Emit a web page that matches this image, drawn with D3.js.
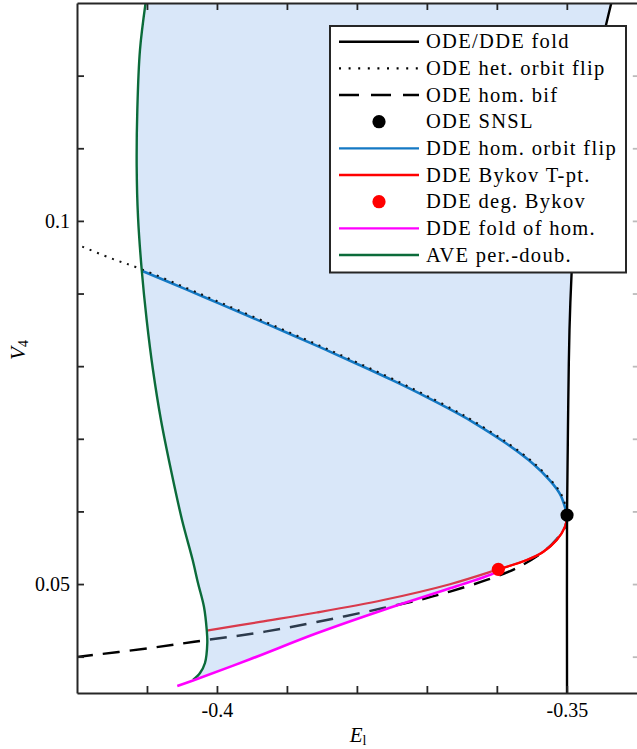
<!DOCTYPE html>
<html>
<head>
<meta charset="utf-8">
<style>
body { margin: 0; background: #fff; }
svg { display: block; }
text { font-family: "Liberation Serif", "Times New Roman", serif; fill: #000; }
</style>
</head>
<body>
<svg id="chart" width="637" height="749"></svg>
<script src="https://d3js.org/d3.v7.min.js"></script>
<script>

// ODE/DDE fold (bottom to top)
var foldE = [-0.34997, -0.34997, -0.34987, -0.34979, -0.34962, -0.34933, -0.34912, -0.34855, -0.34769, -0.34654, -0.34554, -0.34440, -0.34354];
var foldV = [0.0345, 0.0595, 0.06846, 0.07534, 0.08498, 0.09255, 0.09599, 0.10288, 0.10976, 0.11664, 0.12215, 0.12697, 0.13041];

// ODE het. orbit flip (dotted)
var hetE = [-0.4203, -0.41543, -0.41075, -0.40432, -0.39956, -0.39432, -0.38909, -0.38432, -0.37956, -0.37480, -0.37003, -0.36527, -0.36337, -0.35859, -0.35479, -0.35235, -0.35088, -0.35014, -0.34995];
var hetV = [0.09689, 0.09496, 0.09334, 0.09074, 0.08878, 0.08661, 0.08442, 0.08240, 0.08033, 0.07820, 0.07594, 0.07352, 0.07246, 0.06951, 0.06673, 0.06440, 0.06252, 0.06066, 0.05951];

// ODE hom. bif (dashed)
var hbE = [-0.42014, -0.40957, -0.40146, -0.39385, -0.38575, -0.37623, -0.37027, -0.36670, -0.36145, -0.35716, -0.35340, -0.35145, -0.35026, -0.34997];
var hbV = [0.03995, 0.04119, 0.04230, 0.04333, 0.04477, 0.04670, 0.04801, 0.04897, 0.05056, 0.05221, 0.05441, 0.05620, 0.05785, 0.0595];

// DDE hom. orbit flip
var homE = [-0.41075, -0.40432, -0.39956, -0.39432, -0.38909, -0.38432, -0.37956, -0.37480, -0.37003, -0.36527, -0.36337, -0.35859, -0.35479, -0.35240, -0.35097, -0.35026, -0.34997];
var homV = [0.09314, 0.09054, 0.08858, 0.08641, 0.08422, 0.08220, 0.08013, 0.07800, 0.07574, 0.07332, 0.07226, 0.06931, 0.06653, 0.06423, 0.06237, 0.06058, 0.0595];

// DDE Bykov T-pt.
var bykE = [-0.40146, -0.39385, -0.38575, -0.37623, -0.36670, -0.35979, -0.35573, -0.35336, -0.35145, -0.35026, -0.34997];
var bykV = [0.04358, 0.04479, 0.04608, 0.04780, 0.04998, 0.05203, 0.05331, 0.05445, 0.05606, 0.05790, 0.0595];

// DDE fold of hom.
var fhE = [-0.40567, -0.40342, -0.39528, -0.38575, -0.37623, -0.36670, -0.36002, -0.35979];
var fhV = [0.03596, 0.03672, 0.03964, 0.04322, 0.04643, 0.04941, 0.05170, 0.05203];

// AVE per.-doub. (top to bottom)
var pdE = [-0.41014, -0.41100, -0.41138, -0.41147, -0.41128, -0.41075, -0.41004, -0.40914, -0.40800, -0.40657, -0.40499, -0.40347, -0.40271, -0.40185, -0.40146, -0.40138, -0.40171, -0.40242, -0.40342];
var pdV = [0.13041, 0.12353, 0.11527, 0.10742, 0.10054, 0.09324, 0.08635, 0.07947, 0.07259, 0.06570, 0.05882, 0.05331, 0.05014, 0.04684, 0.04367, 0.04188, 0.03913, 0.03775, 0.03679];

// points
var snslE = [-0.34997], snslV = [0.0595];
var degE = [-0.35979], degV = [0.05203];

var xTicks = [-0.41, -0.40, -0.39, -0.38, -0.37, -0.36, -0.35];
var xLabels = {"-0.4": "-0.4", "-0.35": "-0.35"};
var yTicks = [0.04, 0.05, 0.06, 0.07, 0.08, 0.09, 0.10, 0.11, 0.12];
var yLabels = {"0.05": "0.05", "0.1": "0.1"};

var legendNames = ["ODE/DDE fold", "ODE het. orbit flip", "ODE hom. bif", "ODE SNSL",
  "DDE hom. orbit flip", "DDE Bykov T-pt.", "DDE deg. Bykov", "DDE fold of hom.", "AVE per.-doub."];

var cBlue = "#1479c4", cRed = "#ff0000", cMag = "#ff00ff", cGreen = "#0b6b3a", cAxis = "#262626";

var svg = d3.select("#chart");
var pLeft = 77, pRight = 636.8, pTop = 3, pBottom = 693;

var x = d3.scaleLinear().domain([-0.42, -0.34]).range([pLeft, pRight]);
var y = d3.scaleLinear().domain([0.035, 0.13]).range([pBottom, pTop]);

function pts(E, V) { return E.map(function(e, i) { return [e, V[i]]; }); }

var line = d3.line()
    .x(function(d) { return x(d[0]); })
    .y(function(d) { return y(d[1]); })
    .curve(d3.curveCatmullRom);

svg.append("defs").append("clipPath").attr("id", "plotclip")
  .append("rect").attr("x", pLeft).attr("y", pTop).attr("width", pRight - pLeft).attr("height", pBottom - pTop);

var plot = svg.append("g").attr("clip-path", "url(#plotclip)");

var fold = pts(foldE, foldV), het = pts(hetE, hetV), hb = pts(hbE, hbV), hom = pts(homE, homV),
    byk = pts(bykE, bykV), fh = pts(fhE, fhV), pd = pts(pdE, pdV);

// lines that sit under the shading
plot.append("path").attr("d", line(hb)).attr("fill", "none").attr("stroke", "#000")
    .attr("stroke-width", 2.4).attr("stroke-dasharray", "17,10");
plot.append("path").attr("d", line(byk)).attr("fill", "none").attr("stroke", cRed).attr("stroke-width", 2.2);

// shaded region: green down, magenta, red, fold up
var region = pd.concat(fh.slice(1), byk.slice(6), fold.slice(2));
plot.append("path").attr("d", line(region) + "Z")
    .attr("fill", "#8ab4ec").attr("fill-opacity", 0.32).attr("stroke", "none");

plot.append("path").attr("d", line(hom)).attr("fill", "none").attr("stroke", cBlue).attr("stroke-width", 2.6);
plot.append("path").attr("d", line(het)).attr("fill", "none").attr("stroke", "#111")
    .attr("stroke-width", 2).attr("stroke-dasharray", "2,6");
plot.append("path").attr("d", line(pd)).attr("fill", "none").attr("stroke", cGreen).attr("stroke-width", 2.4);
plot.append("path").attr("d", line(fh)).attr("fill", "none").attr("stroke", cMag).attr("stroke-width", 2.6);
plot.append("path").attr("d", line(byk.slice(5))).attr("fill", "none").attr("stroke", cRed).attr("stroke-width", 2.2);
plot.append("path").attr("d", line(fold)).attr("fill", "none").attr("stroke", "#000").attr("stroke-width", 2.4);

plot.selectAll("circle.snsl").data(pts(snslE, snslV)).enter().append("circle")
    .attr("cx", function(d) { return x(d[0]); }).attr("cy", function(d) { return y(d[1]); })
    .attr("r", 6.6).attr("fill", "#000");
plot.selectAll("circle.deg").data(pts(degE, degV)).enter().append("circle")
    .attr("cx", function(d) { return x(d[0]); }).attr("cy", function(d) { return y(d[1]); })
    .attr("r", 6.6).attr("fill", cRed);

// axes (ticks inside, box on all four sides)
function styleAxis(g) {
  g.selectAll("path.domain").attr("stroke", cAxis).attr("stroke-width", 2);
  g.selectAll(".tick line").attr("stroke", cAxis).attr("stroke-width", 1.8);
  g.selectAll(".tick text").attr("font-family", "Liberation Serif, serif").attr("font-size", 20).attr("fill", "#000");
}
function xfmt(d) { var k = String(+d.toFixed(2)); return xLabels[k] || ""; }
function yfmt(d) { var k = String(+d.toFixed(2)); return yLabels[k] || ""; }

svg.append("g").attr("transform", "translate(0," + pBottom + ")")
  .call(d3.axisBottom(x).tickValues(xTicks).tickSizeInner(-7).tickSizeOuter(0).tickPadding(10).tickFormat(xfmt))
  .call(styleAxis);
svg.append("g").attr("transform", "translate(0," + pTop + ")")
  .call(d3.axisTop(x).tickValues(xTicks).tickSizeInner(-7).tickSizeOuter(0).tickFormat(""))
  .call(styleAxis);
svg.append("g").attr("transform", "translate(" + pLeft + ",0)")
  .call(d3.axisLeft(y).tickValues(yTicks).tickSizeInner(-7).tickSizeOuter(0).tickPadding(7).tickFormat(yfmt))
  .call(styleAxis);
// right side of the box sits just past the picture edge
var rAxis = svg.append("g").attr("transform", "translate(" + (pRight + 3) + ",0)")
  .call(d3.axisRight(y).tickValues(yTicks).tickSizeInner(-7).tickSizeOuter(0).tickFormat(""))
  .call(styleAxis);
rAxis.selectAll(".tick line").attr("stroke", "#bbb");

// axis titles
var xt = svg.append("text").attr("x", 358).attr("y", 742).attr("text-anchor", "middle").attr("font-size", 21);
xt.append("tspan").attr("font-style", "italic").text("E");
xt.append("tspan").attr("font-size", 14).attr("dy", 3).text("l");

var yt = svg.append("text").attr("transform", "translate(25,350) rotate(-90)").attr("text-anchor", "middle").attr("font-size", 21);
yt.append("tspan").attr("font-style", "italic").text("V");
yt.append("tspan").attr("font-size", 14).attr("dy", 3).text("4");

// legend
var lg = svg.append("g");
lg.append("rect").attr("x", 330).attr("y", 26).attr("width", 296).attr("height", 246.5)
  .attr("fill", "#fff").attr("stroke", cAxis).attr("stroke-width", 2);

var swatch = [
  {stroke: "#000", dash: null},
  {stroke: "#000", dash: "2,7.6"},
  {stroke: "#000", dash: "20,12"},
  {dot: "#000"},
  {stroke: cBlue, dash: null},
  {stroke: cRed, dash: null},
  {dot: cRed},
  {stroke: cMag, dash: null},
  {stroke: cGreen, dash: null}
];

legendNames.forEach(function(name, i) {
  var cy = 41.7 + i * 26.67;
  var s = swatch[i];
  if (s.dot) {
    lg.append("circle").attr("cx", 379).attr("cy", cy).attr("r", 6.6).attr("fill", s.dot);
  } else {
    lg.append("line").attr("x1", 339).attr("x2", 419).attr("y1", cy).attr("y2", cy)
      .attr("stroke", s.stroke).attr("stroke-width", 2.4).attr("stroke-dasharray", s.dash);
  }
  lg.append("text").attr("x", 426).attr("y", cy + 6.6).attr("font-size", 20.5)
    .attr("letter-spacing", 1.3).text(name);
});

</script>
</body>
</html>
